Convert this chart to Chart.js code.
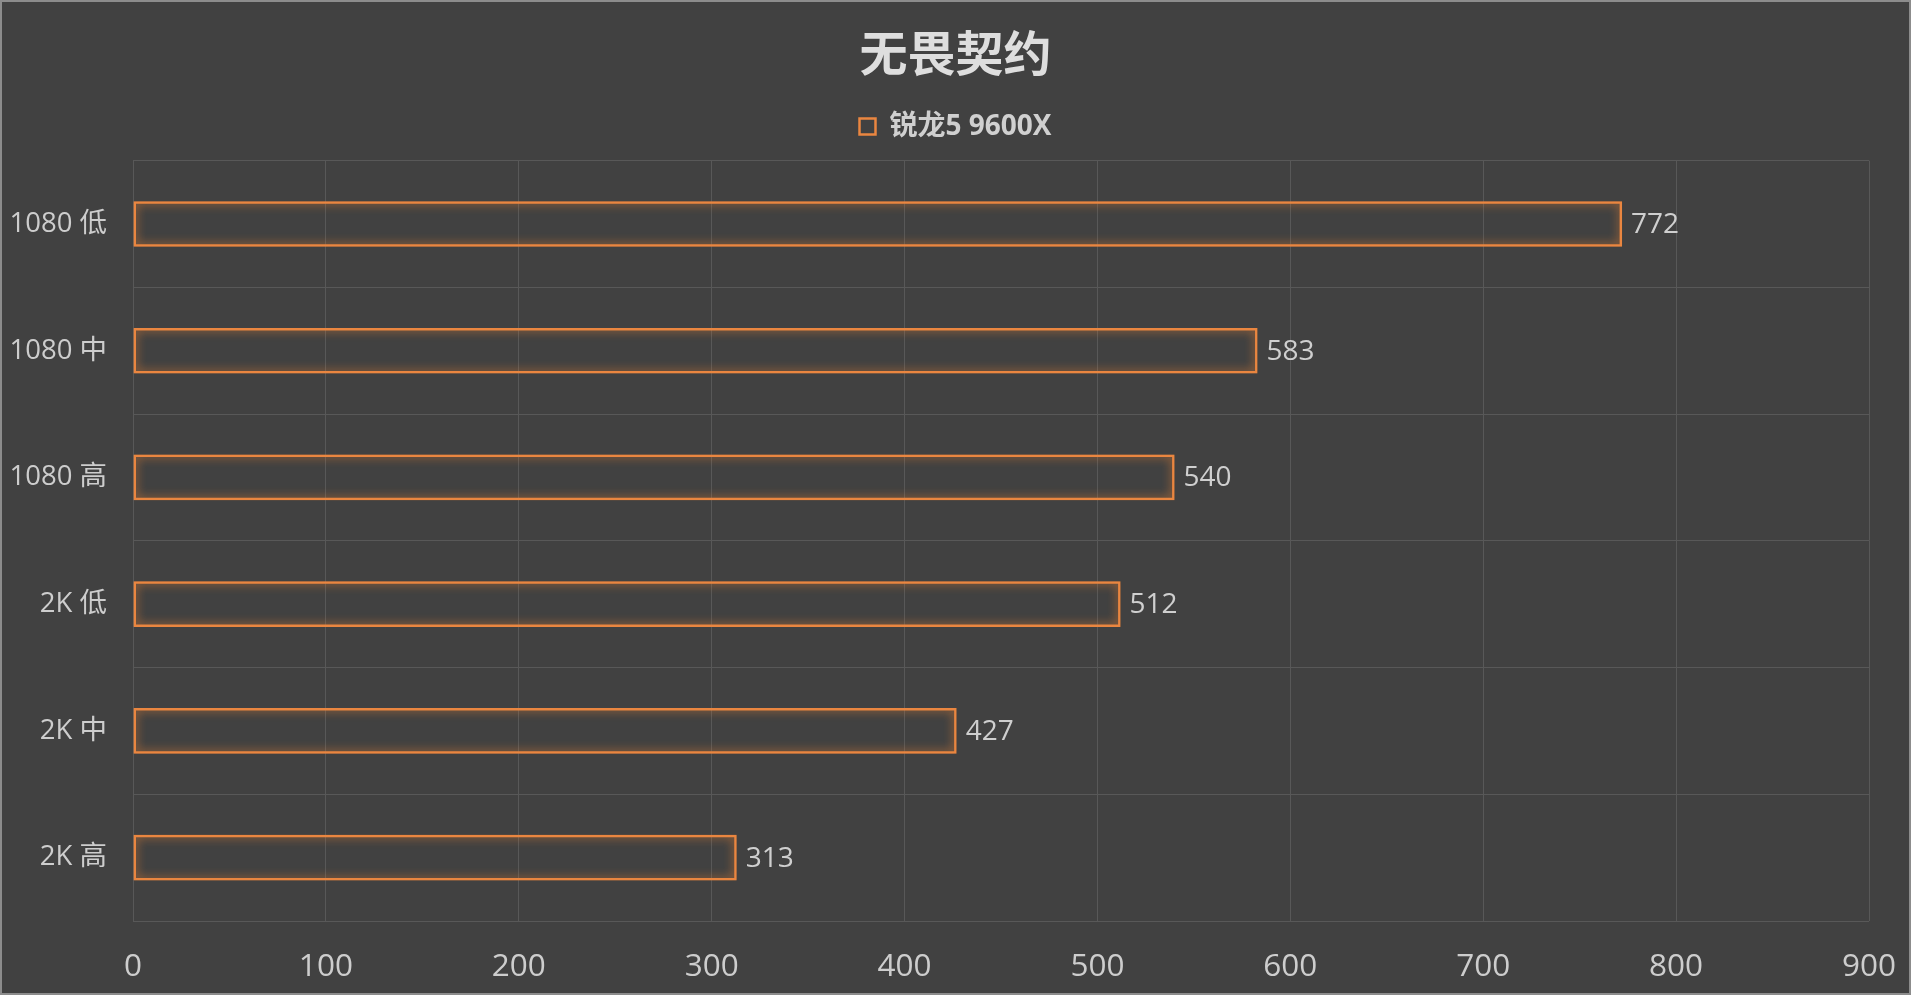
<!DOCTYPE html>
<html>
<head>
<meta charset="utf-8">
<script src="https://cdn.jsdelivr.net/npm/chart.js@4.4.1/dist/chart.umd.min.js"></script>
<style>
  html, body { margin: 0; padding: 0; background: #414141; }
  #wrap {
    width: 1911px; height: 995px; box-sizing: border-box;
    border: 2px solid #8c8c8c; background: #414141; position: relative;
  }
</style>
</head>
<body>
<div id="wrap"><canvas id="myChart"></canvas></div>
<script>
var categories = ['1080 低', '1080 中', '1080 高', '2K 低', '2K 中', '2K 高'];
var fpsValues = [772, 583, 540, 512, 427, 313];
var seriesName = '锐龙5 9600X';
var chartTitle = '无畏契约';

var fontFam = '"Open Sans", "Noto Sans CJK SC", sans-serif';
var orange = '#ea8640';

// extra room under the legend
var legendGap = {
    id: 'legendGap',
    beforeInit: function(chart) {
        var origFit = chart.legend.fit;
        chart.legend.fit = function() {
            origFit.bind(chart.legend)();
            this.height += 10;
        };
    }
};

// glow around the bar outlines + value labels at the bar ends
var glowLabels = {
    id: 'glowLabels',
    beforeDatasetsDraw: function(chart) {
        var c = chart.ctx;
        c.save();
        c.shadowColor = 'rgba(250, 135, 50, 0.95)';
        c.shadowBlur = 10;
    },
    afterDatasetsDraw: function(chart) {
        var c = chart.ctx;
        c.restore();
        c.save();
        c.font = '28px ' + fontFam;
        c.fillStyle = '#cfcfcf';
        c.textAlign = 'left';
        c.textBaseline = 'middle';
        chart.getDatasetMeta(0).data.forEach(function(bar, i) {
            c.fillText(chart.data.datasets[0].data[i], bar.x + 9, bar.y + 1);
        });
        c.restore();
    }
};

var ctx = document.getElementById('myChart').getContext('2d');
var myChart = new Chart(ctx, {
    type: 'bar',
    data: {
        labels: categories,
        datasets: [{
            label: seriesName,
            data: fpsValues,
            backgroundColor: 'rgba(0,0,0,0)',
            borderColor: orange,
            borderWidth: 2.5,
            borderSkipped: false,
            categoryPercentage: 0.36,
            barPercentage: 1
        }]
    },
    options: {
        indexAxis: 'y',
        responsive: true,
        maintainAspectRatio: false,
        animation: false,
        layout: { padding: 0 },
        plugins: {
            title: {
                display: true,
                text: chartTitle,
                color: '#dedede',
                font: { family: fontFam, size: 48, weight: 'bold' },
                padding: { top: 27, bottom: 16 }
            },
            legend: {
                display: true,
                labels: {
                    color: '#d0d0d0',
                    font: { family: fontFam, size: 28, weight: 'bold' },
                    boxWidth: 16,
                    boxHeight: 16,
                    padding: 10
                }
            },
            tooltip: { enabled: false }
        },
        scales: {
            x: {
                min: 0,
                max: 900,
                afterFit: function(scale) {
                    scale.height = 72;
                    scale.paddingRight = 40;
                },
                ticks: {
                    stepSize: 100,
                    color: '#cdcdcd',
                    font: { family: fontFam, size: 31.5 },
                    padding: 27
                },
                grid: { color: '#585858', lineWidth: 1, drawTicks: false },
                border: { display: false }
            },
            y: {
                afterFit: function(scale) { scale.width = 131; },
                ticks: {
                    color: '#cdcdcd',
                    font: { family: fontFam, size: 27.5 },
                    padding: 26
                },
                grid: { color: '#585858', lineWidth: 1, drawTicks: false, offset: true },
                border: { display: false }
            }
        }
    },
    plugins: [legendGap, glowLabels]
});
</script>
</body>
</html>
